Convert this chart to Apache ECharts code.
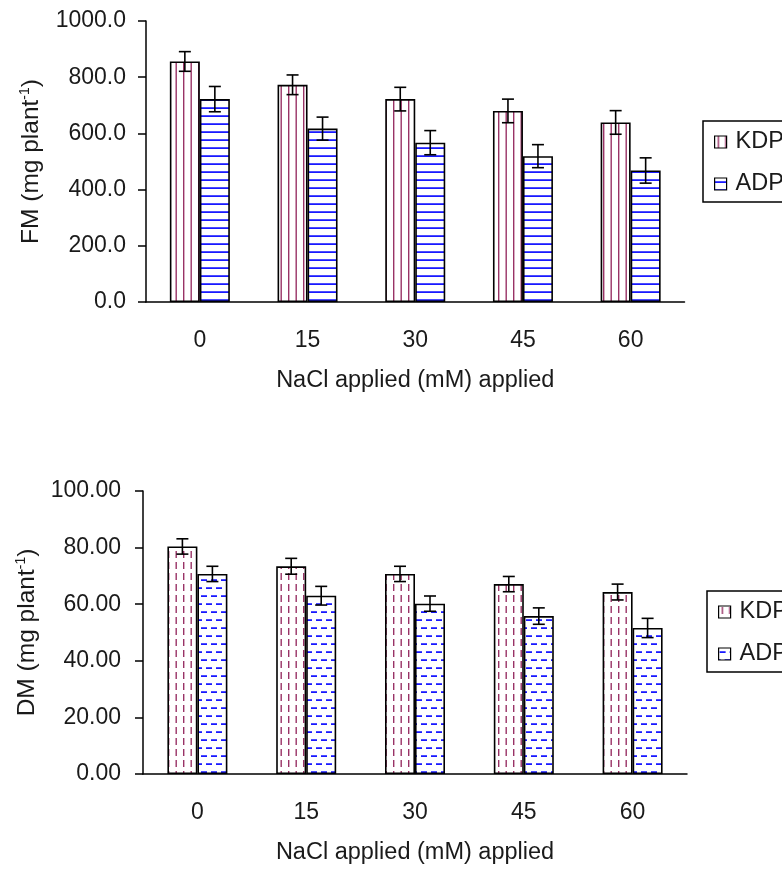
<!DOCTYPE html>
<html>
<head>
<meta charset="utf-8">
<script src="https://cdn.jsdelivr.net/npm/echarts@6/dist/echarts.min.js"></script>
<style>html,body{margin:0;padding:0;background:#fff}#c{width:782px;height:875px}</style>
</head>
<body>
<div id="c"></div>
<script>
// ---- data ----
const categories = ['0', '15', '30', '45', '60'];
const seriesNames = ['KDP', 'ADP'];
// Fresh mass (mg plant-1)
const fmKDP = [856, 773, 722, 680, 639];
const fmKDPErr = [35, 35, 42, 42, 42];
const fmADP = [722, 617, 567, 519, 468];
const fmADPErr = [45, 41, 43, 41, 45];
// Dry mass (mg plant-1)
const dmKDP = [80.4, 73.4, 70.7, 67.1, 64.3];
const dmKDPErr = [2.7, 2.8, 2.7, 2.7, 2.8];
const dmADP = [70.7, 63.0, 60.2, 55.8, 51.6];
const dmADPErr = [2.7, 3.3, 2.7, 2.9, 3.4];
const fmTicks = {min: 0, max: 1000, interval: 200, digits: 1};
const dmTicks = {min: 0, max: 100, interval: 20, digits: 2};

// ---- patterns ----
const MAROON = '#993366', BLUE = '#0000ff';
function mkPattern(w, h, draw) {
  const c = document.createElement('canvas');
  c.width = w; c.height = h;
  const ctx = c.getContext('2d');
  ctx.fillStyle = '#fff'; ctx.fillRect(0, 0, w, h);
  draw(ctx);
  return {image: c, repeat: 'repeat'};
}
const patVert = mkPattern(15, 4, ctx => {
  ctx.fillStyle = MAROON;
  ctx.fillRect(3, 0, 1.4, 4); ctx.fillRect(10.5, 0, 1.4, 4);
});
const patHoriz = mkPattern(4, 8, ctx => {
  ctx.fillStyle = BLUE;
  ctx.fillRect(0, 3.3, 4, 1.6);
});
const patVertDash = mkPattern(15, 11, ctx => {
  ctx.fillStyle = MAROON;
  ctx.fillRect(3, 1, 1.4, 7); ctx.fillRect(10.5, 1, 1.4, 7);
});
const patHorizDash = mkPattern(10, 16, ctx => {
  ctx.fillStyle = BLUE;
  ctx.fillRect(1, 3.3, 6, 1.6);
  ctx.fillRect(6, 11.3, 6, 1.6); ctx.fillRect(-4, 11.3, 6, 1.6);
});

const FONT = 'Liberation Sans, Arial, sans-serif';
const TXT = '#1a1a1a';
const BAR_W = 30;

function errSeries(name, gridIdx, vals, errs, dir) {
  return {
    type: 'custom', name: name + ' err', xAxisIndex: gridIdx, yAxisIndex: gridIdx,
    data: vals.map((v, i) => [i, v - errs[i], v + errs[i]]),
    z: 10, silent: true, legendHoverLink: false,
    renderItem: (params, api) => {
      const lo = api.coord([api.value(0), api.value(1)]);
      const hi = api.coord([api.value(0), api.value(2)]);
      const x = lo[0] + dir * BAR_W / 2;
      const cap = 6;
      const st = {stroke: '#000', lineWidth: 1.6};
      return {type: 'group', children: [
        {type: 'line', shape: {x1: x, y1: lo[1], x2: x, y2: hi[1]}, style: st},
        {type: 'line', shape: {x1: x - cap, y1: lo[1], x2: x + cap, y2: lo[1]}, style: st},
        {type: 'line', shape: {x1: x - cap, y1: hi[1], x2: x + cap, y2: hi[1]}, style: st}
      ]};
    }
  };
}

function xAxis(gridIdx) {
  return {
    type: 'category', gridIndex: gridIdx, data: categories,
    name: 'NaCl applied (mM) applied', nameLocation: 'middle', nameGap: 67,
    nameTextStyle: {fontFamily: FONT, fontSize: 23.5, color: TXT},
    axisLine: {lineStyle: {color: '#000', width: 1.5}},
    axisTick: {length: 8, lineStyle: {color: '#000', width: 1.5}},
    axisLabel: {fontFamily: FONT, fontSize: 23, color: TXT, margin: 27},
    splitLine: {show: false}
  };
}
function yAxis(gridIdx, t, label, gap, margin) {
  return {
    type: 'value', gridIndex: gridIdx, min: t.min, max: t.max, interval: t.interval,
    name: '{n|' + label + ' (mg plant}{s|-1}{n|)}', nameLocation: 'middle', nameGap: gap,
    nameTextStyle: {fontFamily: FONT, color: TXT, rich: {
      n: {fontFamily: FONT, fontSize: 24.5, color: TXT, lineHeight: 27},
      s: {fontFamily: FONT, fontSize: 14, color: TXT, verticalAlign: 'top', lineHeight: 27}
    }},
    axisLine: {show: true, lineStyle: {color: '#000', width: 1.5}},
    axisTick: {show: true, length: 8, lineStyle: {color: '#000', width: 1.5}},
    axisLabel: {fontFamily: FONT, fontSize: 23, color: TXT, margin: margin,
      formatter: v => v.toFixed(t.digits)},
    splitLine: {show: false}
  };
}
function bar(name, gridIdx, vals, pat) {
  return {
    type: 'bar', name: name, xAxisIndex: gridIdx, yAxisIndex: gridIdx, data: vals,
    barWidth: BAR_W, barGap: '0%',
    itemStyle: {color: pat, borderColor: '#000', borderWidth: 1.6},
    emphasis: {disabled: true}
  };
}
function legend(names, left, top) {
  return {
    show: true, left: left, top: top, orient: 'vertical',
    data: names.map(n => ({name: n})),
    icon: 'rect', itemWidth: 12, itemHeight: 12, itemGap: 18,
    padding: [9, 30, 6, 11],
    borderColor: '#000', borderWidth: 1.5,
    itemStyle: {borderColor: '#000', borderWidth: 1.2},
    textStyle: {fontFamily: FONT, fontSize: 23.5, color: TXT, padding: [0, 0, 0, 4]},
    selectedMode: false
  };
}

const chart = echarts.init(document.getElementById('c'), null, {renderer: 'canvas'});
const option = {
  animation: false,
  backgroundColor: '#fff',
  grid: [
    {left: 146, top: 21, width: 538.5, height: 281},
    {left: 143, top: 491, width: 544, height: 283}
  ],
  legend: [
    legend(['KDP', 'ADP'], 703, 121),
    legend(['KDP ', 'ADP '], 707, 591)
  ],
  xAxis: [xAxis(0), xAxis(1)],
  yAxis: [yAxis(0, fmTicks, 'FM', 101, 20), yAxis(1, dmTicks, 'DM', 98, 22)],
  series: [
    bar(seriesNames[0], 0, fmKDP, patVert),
    bar(seriesNames[1], 0, fmADP, patHoriz),
    errSeries(seriesNames[0], 0, fmKDP, fmKDPErr, -1),
    errSeries(seriesNames[1], 0, fmADP, fmADPErr, 1),
    bar(seriesNames[0] + ' ', 1, dmKDP, patVertDash),
    bar(seriesNames[1] + ' ', 1, dmADP, patHorizDash),
    errSeries(seriesNames[0] + ' ', 1, dmKDP, dmKDPErr, -1),
    errSeries(seriesNames[1] + ' ', 1, dmADP, dmADPErr, 1)
  ]
};
chart.setOption(option);
</script>
</body>
</html>
